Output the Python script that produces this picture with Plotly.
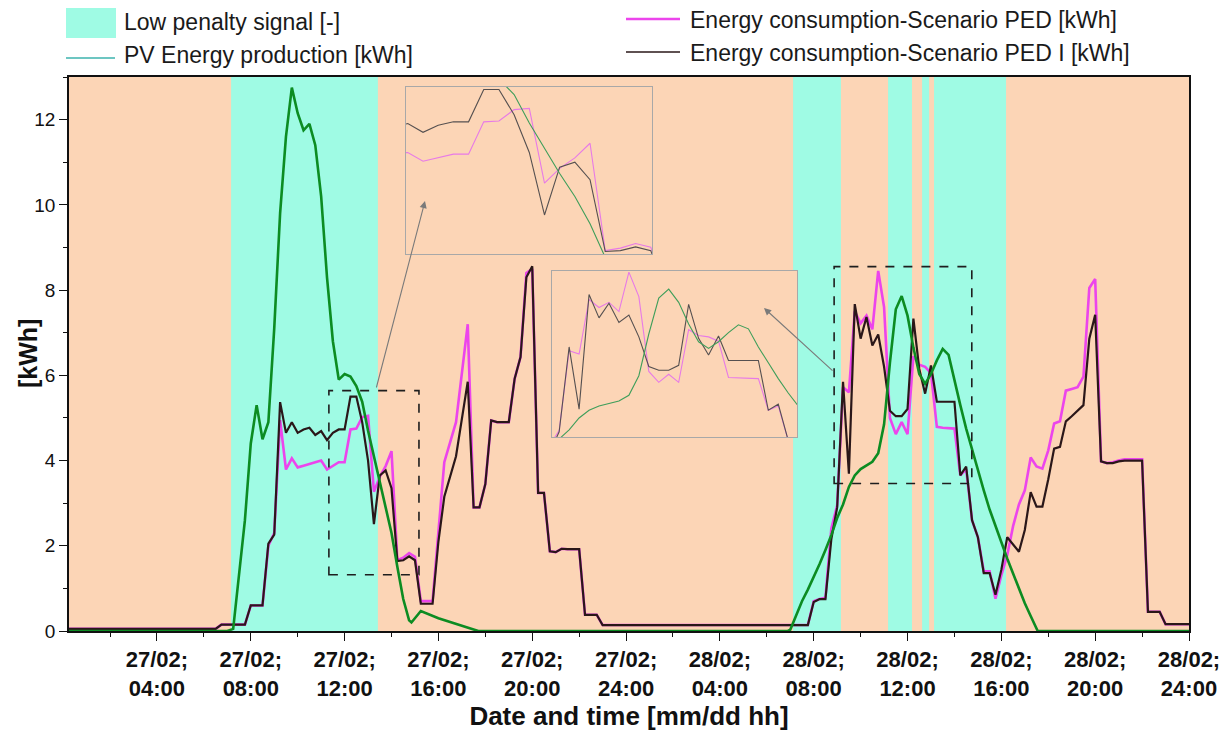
import plotly.graph_objects as go

# ---------------- data (hours from 27/02 00:00) ----------------
t_cons = [0.25, 6.5, 6.75, 7.75, 8.0, 8.5, 8.75, 9.0, 9.25, 9.5, 9.75, 10.0, 10.25, 10.5, 10.75,
          11.0, 11.25, 11.5, 11.75, 12.0, 12.25, 12.5, 12.75, 13.0, 13.25, 13.5, 13.75, 14.0,
          14.25, 14.5, 14.75, 15.0, 15.25, 15.75, 16.0, 16.25, 16.75, 17.25, 17.5, 17.75, 18.0,
          18.25, 18.5, 19.0, 19.25, 19.5, 19.75, 20.0, 20.25, 20.5, 20.75, 21.0, 21.25, 21.5,
          22.0, 22.25, 22.75, 23.0, 31.75, 32.0, 32.25, 32.5, 32.75, 33.0, 33.25, 33.5, 33.75,
          34.0, 34.25, 34.5, 34.75, 35.0, 35.25, 35.5, 35.75, 36.0, 36.25, 36.5, 36.75, 37.0,
          37.25, 37.5, 38.0, 38.25, 38.5, 38.75, 39.0, 39.25, 39.5, 39.75, 40.0, 40.25, 40.5,
          40.75, 41.0, 41.25, 41.5, 41.75, 42.0, 42.25, 42.5, 42.75, 43.0, 43.25, 43.5, 43.75,
          44.0, 44.25, 44.5, 44.75, 45.0, 45.25, 46.0, 46.25, 46.75, 47.0, 48.0]

cons_ped = [0.05, 0.05, 0.15, 0.15, 0.6, 0.6, 2.0, 2.3, 4.95, 3.79, 4.05, 3.84, 3.88, 3.92, 3.96,
            4.0, 3.79, 3.88, 3.96, 3.96, 4.73, 4.75, 5.02, 5.05, 3.27, 3.62, 3.87, 4.22,
            1.66, 1.72, 1.83, 1.74, 0.7, 0.7, 2.3, 3.96, 4.9, 7.2, 2.9, 2.9, 3.45,
            4.94, 4.9, 4.9, 5.92, 6.43, 8.4, 8.5, 3.24, 3.24, 1.87, 1.85, 1.93, 1.92,
            1.92, 0.38, 0.38, 0.14, 0.14, 0.7, 0.75, 0.78, 2.4, 2.95, 5.72, 5.6, 7.5,
            7.22, 7.4, 7.08, 8.45, 7.6, 5.0, 4.62, 4.9, 4.62, 6.45, 6.25, 6.2, 6.05,
            4.79, 4.77, 4.75, 3.65, 3.8, 2.6, 2.2, 1.4, 1.4, 0.76, 1.31, 1.78, 2.46,
            2.97, 3.3, 4.07, 3.86, 3.81, 4.24, 4.87, 4.92, 5.64, 5.68, 5.72, 5.97, 8.05,
            8.26, 3.98, 3.94, 3.96, 4.0, 4.03, 4.03, 0.45, 0.45, 0.16, 0.16]

cons_ped_i = [0.05, 0.05, 0.15, 0.15, 0.6, 0.6, 2.05, 2.26, 5.37, 4.65, 4.9, 4.65, 4.73, 4.77, 4.6,
              4.69, 4.48, 4.65, 4.73, 4.73, 5.5, 5.5, 4.9, 4.0, 2.51, 3.65, 3.77, 3.35,
              1.64, 1.66, 1.75, 1.66, 0.64, 0.64, 2.1, 3.15, 4.1, 5.85, 2.9, 2.9, 3.45,
              4.94, 4.9, 4.9, 5.92, 6.43, 8.3, 8.56, 3.24, 3.24, 1.87, 1.85, 1.93, 1.92,
              1.92, 0.38, 0.38, 0.14, 0.14, 0.68, 0.75, 0.75, 2.15, 2.9, 5.85, 3.69, 7.67,
              6.86, 7.37, 6.7, 6.96, 6.2, 5.17, 5.04, 5.04, 5.21, 7.33, 6.15, 5.57, 6.23,
              5.38, 5.38, 5.38, 3.65, 3.86, 2.6, 2.2, 1.36, 1.36, 0.85, 1.44, 2.2, 2.03,
              1.86, 2.37, 3.26, 2.92, 2.92, 3.56, 4.28, 4.32, 4.92, 5.04, 5.17, 5.3, 6.86,
              7.42, 3.98, 3.94, 3.94, 3.98, 4.0, 4.0, 0.45, 0.45, 0.16, 0.16]

t_pv = [0.25, 7.0, 7.25, 7.5, 7.75, 8.0, 8.25, 8.5, 8.75, 9.0, 9.25, 9.5, 9.75, 10.0, 10.25,
        10.5, 10.75, 11.0, 11.25, 11.5, 11.75, 12.0, 12.25, 12.5, 12.75, 13.0, 13.25, 13.5,
        13.75, 14.0, 14.25, 14.5, 14.75, 14.85, 15.25, 16.0, 17.7, 30.9, 31.0, 31.25, 31.5,
        31.75, 32.0, 32.25, 32.5, 32.75, 33.0, 33.25, 33.5, 33.75, 34.0, 34.25, 34.5, 34.75,
        35.0, 35.25, 35.5, 35.75, 36.0, 36.25, 36.5, 36.75, 37.0, 37.25, 37.5, 37.75, 38.0,
        38.25, 38.5, 38.75, 39.0, 39.25, 39.5, 39.75, 40.0, 40.25, 40.5, 40.75, 41.0, 41.25,
        41.5, 41.55, 48.0]

pv_prod = [0.0, 0.0, 0.05, 1.35, 2.6, 4.4, 5.3, 4.5, 4.9, 7.1, 9.8, 11.6, 12.75, 12.15, 11.75,
           11.9, 11.4, 10.2, 8.3, 6.8, 5.9, 6.03, 5.97, 5.75, 5.38, 4.7, 4.1, 3.5,
           2.95, 2.3, 1.5, 0.75, 0.25, 0.2, 0.47, 0.3, 0.0, 0.0, 0.03, 0.35, 0.7,
           0.97, 1.25, 1.57, 1.9, 2.25, 2.65, 2.97, 3.38, 3.65, 3.8, 3.88, 3.97, 4.17,
           4.85, 6.3, 7.55, 7.86, 7.4, 6.65, 6.03, 5.8, 6.03, 6.35, 6.62, 6.48, 5.85,
           5.3, 4.75, 4.25, 3.8, 3.3, 2.85, 2.45, 2.1, 1.7, 1.35, 1.0, 0.65, 0.35,
           0.05, 0.0, 0.0]

low_start = [7.16, 31.12, 35.17, 36.62, 37.13]
low_end = [13.42, 33.16, 36.19, 36.92, 40.2]

tick_hours = [4, 8, 12, 16, 20, 24, 28, 32, 36, 40, 44, 48]
tick_text = ["27/02;<br>04:00", "27/02;<br>08:00", "27/02;<br>12:00", "27/02;<br>16:00",
             "27/02;<br>20:00", "27/02;<br>24:00", "28/02;<br>04:00", "28/02;<br>08:00",
             "28/02;<br>12:00", "28/02;<br>16:00", "28/02;<br>20:00", "28/02;<br>24:00"]

# ---------------- styling ----------------
FONT = "Liberation Sans, Arial, sans-serif"
ORANGE = "#FCD5B6"
CYAN = "#9FFBE4"
GREEN = "#0C8C22"
MAGENTA = "#EC45EC"
DARK = "#2A1719"

W, H = 1231, 733
L, R, T, B = 69, 1189, 77, 631


def px(x):
    return (x - L) / (R - L)


def py(y):
    return (B - y) / (B - T)


fig = go.Figure()

# main series
fig.add_trace(go.Scatter(x=t_cons, y=cons_ped, mode="lines", name="Energy consumption-Scenario PED [kWh]",
                         line=dict(color=MAGENTA, width=2.6), showlegend=False))
fig.add_trace(go.Scatter(x=t_cons, y=cons_ped_i, mode="lines", name="Energy consumption-Scenario PED I [kWh]",
                         line=dict(color=DARK, width=2.2), showlegend=False))
fig.add_trace(go.Scatter(x=t_pv, y=pv_prod, mode="lines", name="PV Energy production [kWh]",
                         line=dict(color=GREEN, width=2.6), showlegend=False))

# inset series (same data, zoomed)
for xa, ya in (("x2", "y2"), ("x3", "y3")):
    fig.add_trace(go.Scatter(x=t_cons, y=cons_ped, mode="lines", xaxis=xa, yaxis=ya,
                             line=dict(color="#E77AE7", width=1.1), showlegend=False, hoverinfo="skip"))
    fig.add_trace(go.Scatter(x=t_cons, y=cons_ped_i, mode="lines", xaxis=xa, yaxis=ya,
                             line=dict(color="#555050", width=1.1), showlegend=False, hoverinfo="skip"))
    fig.add_trace(go.Scatter(x=t_pv, y=pv_prod, mode="lines", xaxis=xa, yaxis=ya,
                             line=dict(color="#3E9E5A", width=1.1), showlegend=False, hoverinfo="skip"))

shapes = []
# low penalty bands
for s, e in zip(low_start, low_end):
    shapes.append(dict(type="rect", xref="x", yref="y domain", x0=s, x1=e, y0=0, y1=1,
                       fillcolor=CYAN, line=dict(width=0), layer="below"))
# inset backgrounds
for xa, ya in (("x2", "y2"), ("x3", "y3")):
    shapes.append(dict(type="rect", xref=xa + " domain", yref=ya + " domain", x0=0, x1=1, y0=0, y1=1,
                       fillcolor="#FFF9F6", line=dict(width=0), layer="below"))
# dashed zoom boxes
shapes.append(dict(type="rect", xref="x", yref="y", x0=11.33, x1=15.17, y0=1.32, y1=5.64,
                   line=dict(color="#1E1E1E", width=1.6, dash="dash"), fillcolor="rgba(0,0,0,0)"))
shapes.append(dict(type="rect", xref="x", yref="y", x0=32.87, x1=38.74, y0=3.46, y1=8.55,
                   line=dict(color="#1E1E1E", width=1.6, dash="dash"), fillcolor="rgba(0,0,0,0)"))
# legend swatches
shapes.append(dict(type="rect", xref="paper", yref="paper", x0=px(66), x1=px(116), y0=py(38), y1=py(8),
                   fillcolor=CYAN, line=dict(width=0)))
shapes.append(dict(type="line", xref="paper", yref="paper", x0=px(66), x1=px(115), y0=py(58), y1=py(58),
                   line=dict(color="#3DB3AE", width=1.6)))
shapes.append(dict(type="line", xref="paper", yref="paper", x0=px(626), x1=px(680), y0=py(19), y1=py(19),
                   line=dict(color=MAGENTA, width=2.4)))
shapes.append(dict(type="line", xref="paper", yref="paper", x0=px(626), x1=px(680), y0=py(52), y1=py(52),
                   line=dict(color=DARK, width=1.6)))

annotations = []
leg_font = dict(family=FONT, size=23, color="#1A1A1A")
for x, y, txt in ((122, 22, "Low penalty signal [-]"), (122, 55, "PV Energy production [kWh]"),
                  (688, 20, "Energy consumption-Scenario PED [kWh]"),
                  (688, 53, "Energy consumption-Scenario PED I [kWh]")):
    annotations.append(dict(xref="paper", yref="paper", x=px(x), y=py(y), text=txt, showarrow=False,
                            xanchor="left", yanchor="middle", font=leg_font))
# y-axis title
annotations.append(dict(xref="paper", yref="paper", x=px(28), y=py(354), text="[kWh]", showarrow=False,
                        textangle=-90, xanchor="center", yanchor="middle",
                        font=dict(family=FONT, size=25, weight="bold", color="#111111")))
# arrows to insets
annotations.append(dict(xref="paper", yref="paper", x=px(425), y=py(201), ax=376 - 425, ay=389 - 201,
                        text="", showarrow=True, arrowhead=2, arrowsize=1.3, arrowwidth=1.1,
                        arrowcolor="#7A7A7A"))
annotations.append(dict(xref="paper", yref="paper", x=px(764), y=py(308), ax=834 - 764, ay=372 - 308,
                        text="", showarrow=True, arrowhead=2, arrowsize=1.3, arrowwidth=1.1,
                        arrowcolor="#7A7A7A"))

inset_axis = dict(showline=True, mirror=True, linecolor="#A8A8A8", linewidth=1, showticklabels=False,
                  ticks="", showgrid=False, zeroline=False, fixedrange=True)

fig.update_layout(
    width=W, height=H,
    margin=dict(l=L, r=W - R, t=T, b=H - B, pad=0),
    paper_bgcolor="white",
    plot_bgcolor=ORANGE,
    font=dict(family=FONT, color="#111111"),
    shapes=shapes,
    annotations=annotations,
    showlegend=False,
    xaxis=dict(
        range=[0.25, 48], showgrid=False, zeroline=False,
        showline=True, mirror=True, linecolor="#111111", linewidth=1.5,
        tickmode="array", tickvals=tick_hours, ticktext=tick_text,
        ticks="outside", ticklen=8, tickwidth=1.3, tickcolor="#111111",
        tickfont=dict(family=FONT, size=22, weight="bold", color="#111111"),
        minor=dict(tickmode="linear", tick0=0, dtick=2, ticks="outside", ticklen=4, tickwidth=1.2,
                   tickcolor="#111111", showgrid=False),
        title=dict(text="Date and time [mm/dd hh]", standoff=2,
                   font=dict(family=FONT, size=26, weight="bold", color="#111111")),
    ),
    yaxis=dict(
        range=[0, 13], showgrid=False, zeroline=False,
        showline=True, mirror=True, linecolor="#111111", linewidth=1.5,
        tickmode="array", tickvals=[0, 2, 4, 6, 8, 10, 12],
        ticks="outside", ticklen=8, tickwidth=1.3, tickcolor="#111111",
        tickfont=dict(family=FONT, size=19, color="#111111"),
        minor=dict(tickmode="linear", tick0=0, dtick=1, ticks="outside", ticklen=4, tickwidth=1.2,
                   tickcolor="#111111", showgrid=False),
    ),
    xaxis2=dict(inset_axis, domain=[px(406), px(652)], range=[10.97, 15.02], anchor="y2"),
    yaxis2=dict(inset_axis, domain=[py(254), py(87)], range=[1.58, 5.56], anchor="x2"),
    xaxis3=dict(inset_axis, domain=[px(552), px(797)], range=[32.82, 38.97], anchor="y3"),
    yaxis3=dict(inset_axis, domain=[py(437), py(271)], range=[2.72, 8.49], anchor="x3"),
)

fig.write_html("out.html")
